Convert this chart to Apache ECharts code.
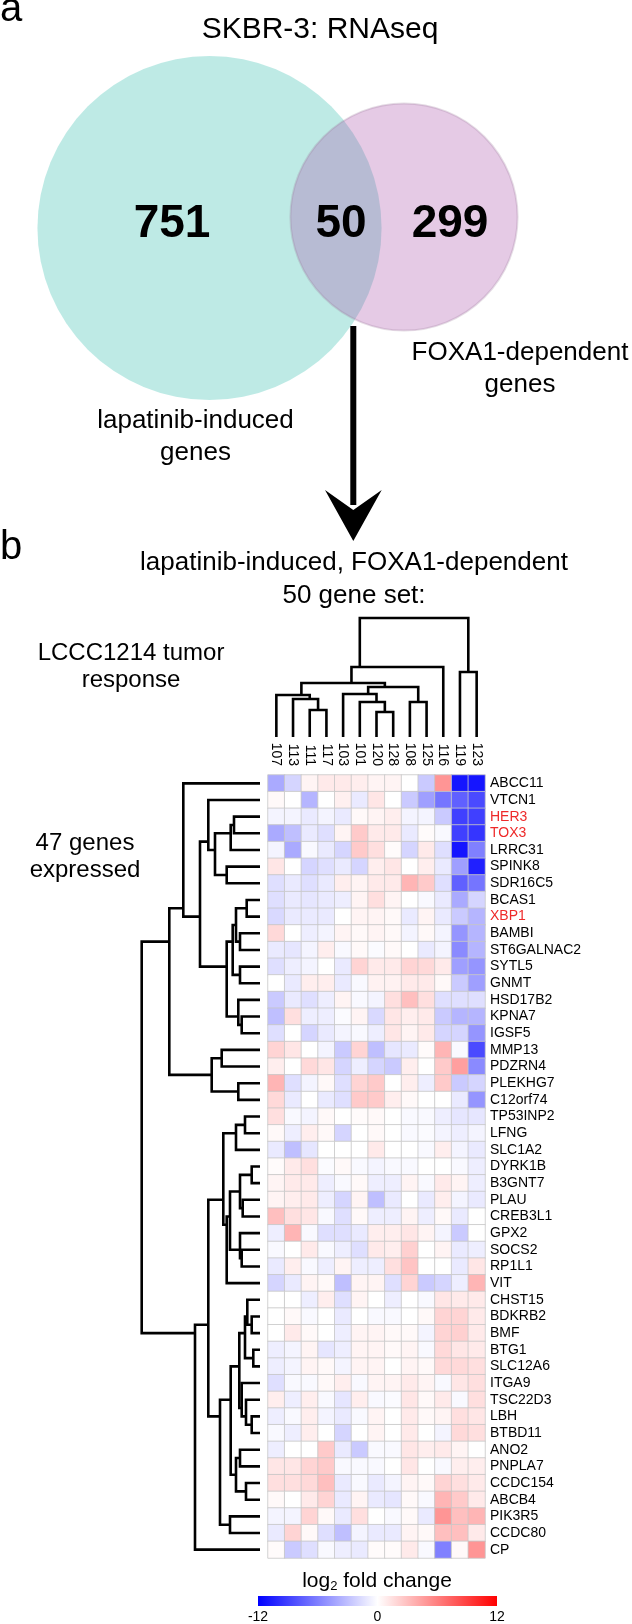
<!DOCTYPE html>
<html><head><meta charset="utf-8">
<script src="https://cdn.jsdelivr.net/npm/echarts@6/dist/echarts.min.js"></script>
<style>html,body{margin:0;padding:0;background:#fff}#c{width:632px;height:1624px}</style>
</head><body><div id="c"></div>
<script>
// ---------------- DATA ----------------
const vennSetNames = ['lapatinib-induced', 'FOXA1-dependent'];
const vennCounts = [751, 50, 299]; // only lapatinib, both, only FOXA1

const samples = ['107','113','111','117','103','101','120','128','108','125','116','119','123'];
const genes = ['ABCC11','VTCN1','HER3','TOX3','LRRC31','SPINK8','SDR16C5','BCAS1','XBP1','BAMBI',
  'ST6GALNAC2','SYTL5','GNMT','HSD17B2','KPNA7','IGSF5','MMP13','PDZRN4','PLEKHG7','C12orf74',
  'TP53INP2','LFNG','SLC1A2','DYRK1B','B3GNT7','PLAU','CREB3L1','GPX2','SOCS2','RP1L1','VIT',
  'CHST15','BDKRB2','BMF','BTG1','SLC12A6','ITGA9','TSC22D3','LBH','BTBD11','ANO2','PNPLA7',
  'CCDC154','ABCB4','PIK3R5','CCDC80','CP'];
const highlightedGenes = ['HER3','TOX3','XBP1'];

// log2 fold change, one row per gene, columns in sample order
const logFC = [
 [-4,-2,0.5,1,1,0.8,0.5,0.5,0,-2.5,5,-11,-11],
 [0.3,0,-3.5,0,0.7,-1,1.2,0,-2.5,-4.5,-6.5,-7.5,-8.5],
 [-0.5,-0.5,-1,-0.5,-1,0.3,0.5,0.8,-0.5,-0.5,-2.5,-9,-9],
 [-4,-3,-1,-1.5,0.5,2.5,1,1,-1,0.2,-0.3,-9,-9.5],
 [-0.5,-4,-0.3,-1,-2,2.5,1.5,0.2,-2,1,-1.5,-11,-6],
 [1.2,0,-2,-1.5,-1,-2,0.8,1.2,0,0.8,-1,-4.5,-10.5],
 [-1.5,-1,-1.5,-1,0.8,0.5,1,1,3.5,2.5,-1.5,-7.5,-6.5],
 [-1.5,-1,-1.2,-1,-0.8,0.5,1.5,0.5,0,-0.3,-1,-4,-2],
 [-1.8,-1,-1,-1,0,0.5,0.5,0.3,-1,0.5,-1,-2.5,-3.5],
 [1.8,0,-0.8,-0.5,0.5,0.3,0.5,0.3,-0.5,0.3,-0.5,-5,-3.5],
 [-1,-1.2,-0.5,0.8,-0.3,0.3,-0.2,0.3,0,-1,-0.5,-5.5,-3.5],
 [-1.5,-0.8,-0.5,0,-1,2,1,1,2,1.8,1,-4.5,-5],
 [0,-1,0.8,0.8,-1,-0.3,0.6,0.6,1,1,0.3,-2.5,-4.5],
 [-2.5,-1,-1.5,-0.8,0.5,-0.3,-0.5,1.5,3,1.5,-1.5,-1.5,-1.5],
 [-3,1.5,-0.8,-0.8,-0.2,0.5,-1.8,1.2,0.8,1,-2.5,-3.5,-3.5],
 [-1.5,0,-2,-1,-0.5,-0.3,-0.8,1.2,0.5,1,-2,-2,-5],
 [2,1.2,0,-0.5,-2.5,2,-3,-1.2,-1,0.2,3.5,-0.3,-8.5],
 [0.8,0,1.8,1.2,-2,-0.8,-2,-2.5,0.8,0,2.5,4.5,-5.5],
 [3.5,-1.5,-0.5,0.3,-1.5,2,2.5,0,0.8,-0.8,2.5,-2.5,-2],
 [1.8,-1,0,-1,-1.5,2.5,2.5,0.8,0.3,0,0,-1,-5],
 [1.5,-0.3,-0.5,0.3,0,0.2,0.3,0,-0.3,-0.3,-0.8,-1.2,-1.2],
 [0.3,-0.8,0.8,0.3,-2,0,0.3,0,-0.3,-0.2,-0.5,-0.8,-0.5],
 [-1,-3,-1.2,0,0,0,1,0,0,-0.3,0.8,-0.5,-1],
 [0.2,1,1.5,-0.2,0.3,-0.3,-0.5,-0.3,-0.3,0,0,-0.3,-0.8],
 [0.5,1,1,-0.8,-0.3,0.3,-0.8,-0.8,0.5,-0.3,1,0.5,-0.8],
 [0.5,0.8,1,-0.8,-2,0.5,-3,-1,0,-1,0.8,-0.5,-1],
 [3,1.5,1.2,-0.3,-1.5,0.3,-0.8,-0.8,0.5,-0.8,0.3,-1,0],
 [-0.8,3.5,-0.3,-1.5,-1.5,-1,0.8,0.8,1.2,0.5,-0.5,-2.5,0],
 [-0.3,0,1,-0.3,-0.8,-1.5,1,0.8,2.2,0,0.5,-1,-0.8],
 [-1,0.8,-0.3,-0.8,0.5,-0.8,-0.8,1.5,2.8,0,0,-1,1.2],
 [-2,-1,0.5,0.3,-3,0.5,0.5,-1.5,2,-2.5,-2,-0.8,3.5],
 [0,0,-0.8,0.8,-1.5,0.5,0,-0.8,0,-0.3,1.2,1,1],
 [0,0.3,-0.3,0,-1,0,-0.3,-0.3,0,0.3,2,2,1],
 [0,1,0.3,0,-0.8,0.5,0.5,0.3,0.3,-0.5,2,2.2,1],
 [-0.8,-0.5,0.5,-1.2,-0.8,0.5,0.5,0.3,0.5,-0.3,1.8,1.2,1],
 [-0.8,-0.5,0.5,0.3,-0.5,0.5,0.5,0,0.5,0.3,1.8,1.8,1.5],
 [-1.5,-0.3,-0.3,0.3,0.8,-0.3,0.5,0.5,1,0.5,-0.3,1.2,1.5],
 [0.8,-0.8,0.8,-0.3,-1.2,0.8,-0.3,-0.2,1.2,0.3,1,-0.3,1.5],
 [-0.8,-0.3,0.8,-0.5,-1,-0.3,0.5,0,1,0.3,0.5,1.5,1.2],
 [-0.3,-0.8,0.8,0,-2,0,0.5,0,1,0,-0.5,1.8,1.5],
 [-0.8,0,0,2.5,-1,-2.5,-0.3,-0.3,1.2,0.8,1,0.5,0],
 [1.2,1.2,2,2.5,-0.3,-0.3,-0.3,0,1.2,0,-0.3,0.8,0.8],
 [1.5,1.5,1.8,3,-1,-0.3,-1,-0.5,0.5,0.3,2,1.5,1],
 [0.3,0,1,2,-1,0.5,-1,-1.2,0.3,-0.3,3.5,2.5,1],
 [-0.5,-0.5,2,0.3,-1,1.5,0,-0.3,0.3,-1,5,3,3.5],
 [-1,2,0.3,-1.5,-3,-0.5,-1,-1,0.5,0.3,3,3,1],
 [0.2,-2.5,-1.5,-0.3,-0.8,-1,0.2,0.2,1,-0.3,-6,0.3,5]
];

// hclust-style merges: negative = leaf -(index+1), positive = earlier merge (1-based); third = height
const rowMerges = [
 [-3,-4,26],[1,-5,29.3],[-6,-7,33.3],[2,3,45],[-2,4,51.7],
 [-8,-9,13.3],[-10,-11,20],[6,7,24],[-12,-13,20],[8,9,27.3],
 [-15,-16,18.3],[-14,11,21.7],[10,12,33.3],[5,13,60],[-1,14,76.7],
 [-17,-18,38.3],[-19,-20,21.7],[16,17,48.3],[15,18,90.7],
 [-21,-22,15],[20,-23,24],[-24,-25,8.3],[-26,-27,17.3],[22,23,20],
 [-29,-30,18.3],[-28,25,20],[24,26,30],[27,-31,33.3],[21,28,36.7],
 [-33,-34,8.3],[-32,30,12.7],[-35,-36,6.7],[31,32,15],
 [-39,-40,8.3],[-38,34,14],[-37,35,18.3],[33,36,20.7],
 [-41,-42,20],[-43,-44,14],[38,39,24],[37,40,29.3],
 [-45,-46,30],[41,42,40],[29,43,51.7],[44,-47,65],[19,45,118.3]
];
const colMerges = [
 [-3,-4,27],[-2,1,38],[-1,2,42],[-7,-8,25],[-6,4,35],[-5,5,43],
 [-9,-10,35],[6,7,50],[3,8,54],[9,-11,70],[-12,-13,65],[10,11,119]
];
const colorScaleTicks = [-12, 0, 12];

// ---------------- BUILD ----------------
const FONT = "'Liberation Sans', Arial, Helvetica, sans-serif";
const heatColors = ['#0000ff', '#ffffff', '#ff0000'];

function dendroSegments(merges) {
  const nodes = [];
  const info = r => r < 0 ? {pos: -r - 1, h: 0, n: 1} : nodes[r - 1];
  return merges.map(([a, b, h]) => {
    const A = info(a), B = info(b), n = A.n + B.n;
    nodes.push({pos: (A.pos * A.n + B.pos * B.n) / n, h, n});
    return [A.pos, A.h, B.pos, B.h, h];
  });
}
const rowSegs = dendroSegments(rowMerges);
const colSegs = dendroSegments(colMerges);
const rowRoot = Math.max(...rowMerges.map(m => m[2]));
const colRoot = Math.max(...colMerges.map(m => m[2]));

const heatData = [];
logFC.forEach((row, r) => row.forEach((v, c) => heatData.push([c, r, v])));

const vennTotals = [vennCounts[0] + vennCounts[1], vennCounts[2] + vennCounts[1]];

const chart = echarts.init(document.getElementById('c'), null, {renderer: 'canvas'});

function txt(text, x, y, size, opts) {
  const o = opts || {};
  return {type: 'text', x, y, z: 100, zlevel: 0, silent: true,
    style: {text, font: (o.bold ? 'bold ' : '') + size + 'px ' + FONT, fill: '#000',
      align: o.align || 'center', verticalAlign: 'middle'}};
}

const option = {
  animation: false,
  backgroundColor: '#fff',
  textStyle: {fontFamily: FONT},
  grid: [
    {left: 268, top: 775, width: 217, height: 783},        // heatmap
    {left: 141.7, top: 775, width: 118.3, height: 783},    // row dendrogram
    {left: 268, top: 618, width: 217, height: 119},        // column dendrogram
    {left: 258, top: 1596, width: 239, height: 14},        // colour scale
    {left: 0, top: 0, width: 632, height: 632}             // venn
  ],
  xAxis: [
    {type: 'category', gridIndex: 0, data: samples, position: 'top',
      axisLine: {show: false}, axisTick: {show: false}, splitLine: {show: false},
      axisLabel: {rotate: 90, margin: 9, fontSize: 14, color: '#000', fontFamily: FONT, interval: 0}},
    {type: 'value', gridIndex: 1, min: 0, max: rowRoot, inverse: true, show: false},
    {type: 'value', gridIndex: 2, min: -0.5, max: samples.length - 0.5, show: false},
    {type: 'value', gridIndex: 3, min: -12, max: 12, interval: 12,
      axisLine: {show: false}, axisTick: {show: false}, splitLine: {show: false},
      axisLabel: {margin: 4, fontSize: 14, color: '#000', fontFamily: FONT, showMinLabel: true, showMaxLabel: true,
        formatter: v => colorScaleTicks.includes(v) ? String(v) : ''}},
    {type: 'value', gridIndex: 4, min: 0, max: 632, show: false}
  ],
  yAxis: [
    {type: 'category', gridIndex: 0, data: genes, inverse: true, position: 'right',
      axisLine: {show: false}, axisTick: {show: false}, splitLine: {show: false},
      axisLabel: {margin: 5, fontSize: 14, fontFamily: FONT, interval: 0,
        color: v => highlightedGenes.includes(v) ? '#ee2a2a' : '#000'}},
    {type: 'value', gridIndex: 1, min: -0.5, max: genes.length - 0.5, inverse: true, show: false},
    {type: 'value', gridIndex: 2, min: 0, max: colRoot, show: false},
    {type: 'value', gridIndex: 3, min: 0, max: 1, show: false},
    {type: 'value', gridIndex: 4, min: 0, max: 632, inverse: true, show: false}
  ],
  visualMap: {show: false, type: 'continuous', min: -12, max: 12, seriesIndex: 0,
    inRange: {color: heatColors}},
  series: [
    {type: 'heatmap', xAxisIndex: 0, yAxisIndex: 0, data: heatData,
      itemStyle: {borderColor: '#c6c6c6', borderWidth: 0.8}, emphasis: {disabled: true}},
    {type: 'custom', xAxisIndex: 1, yAxisIndex: 1, data: rowSegs, silent: true, clip: false,
      renderItem: (p, api) => {
        const pts = [[api.value(1), api.value(0)], [api.value(4), api.value(0)],
                     [api.value(4), api.value(2)], [api.value(3), api.value(2)]].map(q => api.coord(q));
        return {type: 'polyline', shape: {points: pts}, style: {stroke: '#000', lineWidth: 2.6, fill: null, lineJoin: 'miter'}};
      }},
    {type: 'custom', xAxisIndex: 2, yAxisIndex: 2, data: colSegs, silent: true, clip: false,
      renderItem: (p, api) => {
        const pts = [[api.value(0), api.value(1)], [api.value(0), api.value(4)],
                     [api.value(2), api.value(4)], [api.value(2), api.value(3)]].map(q => api.coord(q));
        return {type: 'polyline', shape: {points: pts}, style: {stroke: '#000', lineWidth: 2.6, fill: null, lineJoin: 'miter'}};
      }},
    {type: 'custom', xAxisIndex: 3, yAxisIndex: 3, data: [[colorScaleTicks[0], colorScaleTicks[2]]], silent: true,
      renderItem: (p, api) => {
        const a = api.coord([api.value(0), 0]), b = api.coord([api.value(1), 1]);
        return {type: 'rect', shape: {x: a[0], y: b[1], width: b[0] - a[0], height: a[1] - b[1]},
          style: {fill: new echarts.graphic.LinearGradient(0, 0, 1, 0, [
            {offset: 0, color: heatColors[0]}, {offset: 0.5, color: heatColors[1]}, {offset: 1, color: heatColors[2]}])}};
      }},
    {type: 'custom', xAxisIndex: 4, yAxisIndex: 4, data: vennTotals, silent: true, clip: false, z: 1,
      renderItem: (p, api) => {
        const centers = [[209.5, 228], [404, 217]];
        const fills = ['rgba(40,186,168,0.30)', 'rgba(168,78,168,0.30)'];
        const strokes = [null, 'rgba(150,120,150,0.25)'];
        const i = p.dataIndex;
        const c = api.coord(centers[i]);
        const r = api.size([6.08 * Math.sqrt(api.value(0)), 0])[0];
        return {type: 'circle', shape: {cx: c[0], cy: c[1], r},
          style: {fill: fills[i], stroke: strokes[i], lineWidth: 2}};
      }}
  ],
  graphic: {elements: [
    txt('a', 0, 10, 40, {align: 'left'}),
    txt('SKBR-3: RNAseq', 320, 30, 30),
    txt(String(vennCounts[0]), 172, 224, 46, {bold: true}),
    txt(String(vennCounts[1]), 341, 224, 46, {bold: true}),
    txt(String(vennCounts[2]), 450, 224, 46, {bold: true}),
    txt(vennSetNames[1], 520, 353, 26),
    txt('genes', 520, 385, 26),
    txt(vennSetNames[0], 195.5, 421, 26),
    txt('genes', 195.5, 453, 26),
    {type: 'line', z: 100, silent: true, shape: {x1: 353.3, y1: 326, x2: 353.3, y2: 505}, style: {stroke: '#000', lineWidth: 6}},
    {type: 'polygon', z: 100, silent: true, shape: {points: [[325, 490], [353.3, 541], [381.7, 490], [353.3, 510]]}, style: {fill: '#000'}},
    txt('b', 0, 548, 40, {align: 'left'}),
    txt('lapatinib-induced, FOXA1-dependent', 354, 563, 26),
    txt('50 gene set:', 354, 596, 26),
    txt('LCCC1214 tumor', 131, 653, 24),
    txt('response', 131, 680, 24),
    txt('47 genes', 85, 843, 24),
    txt('expressed', 85, 870, 24),
    {type: 'text', x: 377, y: 1581, z: 100, silent: true, style: {
      text: '{n|log}{s|2}{n| fold change}', align: 'center', verticalAlign: 'middle', fill: '#000',
      rich: {n: {fontSize: 21, fontFamily: FONT, fill: '#000'}, s: {fontSize: 13, fontFamily: FONT, fill: '#000', padding: [11, 0, 0, 0]}}}}
  ]}
};
chart.setOption(option);
</script></body></html>
